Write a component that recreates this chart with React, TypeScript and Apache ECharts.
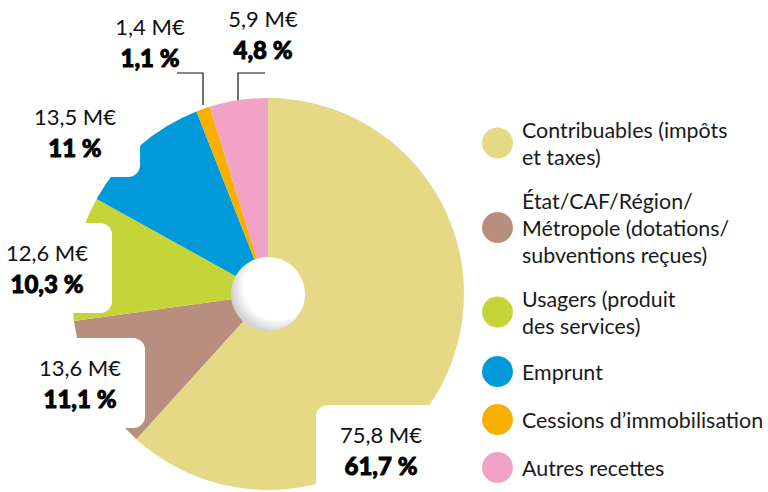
import React, { useEffect, useRef } from "react";
import * as echarts from "echarts";

const categories = [
  "Contribuables (impôts et taxes)",
  "État/CAF/Région/Métropole (dotations/subventions reçues)",
  "Usagers (produit des services)",
  "Emprunt",
  "Cessions d’immobilisation",
  "Autres recettes",
];
const legendLabels = [
  "Contribuables (impôts\net taxes)",
  "État/CAF/Région/\nMétropole (dotations/\nsubventions reçues)",
  "Usagers (produit\ndes services)",
  "Emprunt",
  "Cessions d’immobilisation",
  "Autres recettes",
];
const amounts = [75.8, 13.6, 12.6, 13.5, 1.4, 5.9]; // M€
const percents = [61.7, 11.1, 10.3, 11, 1.1, 4.8];
const colors = ["#E6D986", "#B88F7E", "#C5D436", "#009ADA", "#F8AF00", "#F1A2C7"];

// label placement (layout only)
const labelPos: [number, number][] = [
  [381, 450],
  [80, 383],
  [47, 268],
  [75, 132],
  [150, 42],
  [263, 34],
];
const leaderLines: Record<number, number[][]> = {
  4: [[203, 105], [203, 73], [177, 73]],
  5: [[238, 106], [238, 73], [265, 73]],
};

const fmt = (v: number) => String(v).replace(".", ",");

export default function App() {
  const ref = useRef<HTMLDivElement>(null);
  useEffect(() => {
    const chart = echarts.init(ref.current!, null, { renderer: "svg" });
    chart.setOption({
      animation: false,
      legend: {
        orient: "vertical",
        left: 482,
        top: 116,
        padding: 0,
        itemWidth: 31,
        itemHeight: 31,
        itemGap: 17,
        icon: "circle",
        selectedMode: false,
        formatter: (name: string) => legendLabels[categories.indexOf(name)],
        textStyle: {
          fontFamily: "Lato",
          fontSize: 21.4,
          lineHeight: 27,
          color: "#1a1a1a",
          padding: [0, 0, 0, 4],
        },
      },
      series: [
        {
          type: "pie",
          center: [268, 294],
          radius: [30, 196],
          startAngle: 90,
          clockwise: true,
          silent: true,
          avoidLabelOverlap: false,
          data: categories.map((c, i) => ({
            name: c,
            value: amounts[i],
            itemStyle: { color: colors[i] },
            labelLine: { show: i in leaderLines },
            label: i in leaderLines ? { backgroundColor: "transparent" } : {},
          })),
          label: {
            show: true,
            position: "outside",
            backgroundColor: "#fff",
            borderRadius: 12,
            padding: [14, 24, 14, 24],
            align: "center",
            formatter: (p: any) =>
              `{v|${fmt(amounts[p.dataIndex])} M€}\n{p|${fmt(percents[p.dataIndex])} %}`,
            rich: {
              v: { fontFamily: "Lato", fontSize: 22, color: "#111", lineHeight: 31, align: "center" },
              p: {
                fontFamily: "Lato",
                fontSize: 24,
                fontWeight: 900,
                color: "#000",
                lineHeight: 31,
                align: "center",
                textBorderColor: "#000",
                textBorderWidth: 0.9,
              },
            },
          },
          labelLine: {
            show: true,
            lineStyle: { color: "#111", width: 1.2 },
          },
          labelLayout: (params: any) => {
            const i = params.dataIndex;
            const out: any = {
              x: labelPos[i][0],
              y: labelPos[i][1],
              align: "center",
              verticalAlign: "middle",
              hideOverlap: false,
              moveOverlap: null,
            };
            if (leaderLines[i]) out.labelLinePoints = leaderLines[i];
            return out;
          },
        },
      ],
      graphic: [
        {
          type: "circle",
          shape: { cx: 268, cy: 294, r: 37 },
          z: 100,
          silent: true,
          style: {
            fill: new echarts.graphic.RadialGradient(0.62, 0.4, 0.62, [
              { offset: 0, color: "#ffffff" },
              { offset: 0.72, color: "#ffffff" },
              { offset: 1, color: "#d2d2d2" },
            ]),
          },
        },
      ],
    });
    return () => chart.dispose();
  }, []);
  return (
    <div
      ref={ref}
      style={{ position: "absolute", left: 0, top: 0, width: 768, height: 492, background: "#fff" }}
    />
  );
}
